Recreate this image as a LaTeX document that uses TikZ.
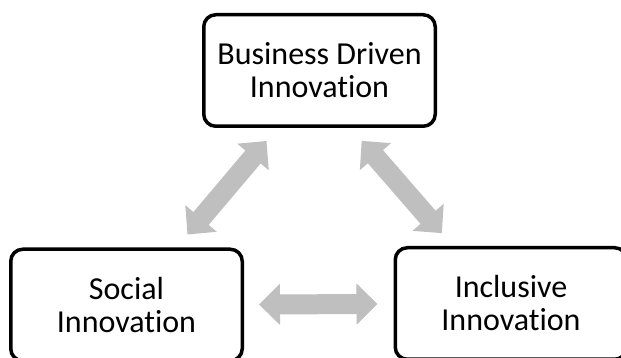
\documentclass[tikz,border=0pt]{standalone}
\usepackage{fontspec}
\setmainfont{Carlito}[Ligatures={NoCommon,NoDiscretionary,NoRare}]
\usetikzlibrary{arrows.meta, positioning}
\tikzstyle{idea} = [rectangle, rounded corners=12pt, minimum width=231.5pt, minimum height=111.5pt, text centered, align=center, draw=black, line width=3.5pt, font=\fontsize{32}{33}\selectfont]
\tikzstyle{link} = [line width=20pt, color=black!25, {Triangle[length=21pt,width=40pt]}-{Triangle[length=21pt,width=40pt]}, shorten <=17pt, shorten >=17pt]

\begin{document}
\begin{tikzpicture}[node distance=234.5pt]
	\useasboundingbox (0,0) rectangle (621pt,358pt);
	\clip (0,0) rectangle (621pt,358pt);
	\node (bdi) [idea] at (319.5pt,287.5pt) {Business Driven\\Innovation};
	\node (social) [idea, below of=bdi, xshift=-193pt] {Social\\Innovation};
	\node (inclusive) [idea, right of=social, xshift=150pt, yshift=1.5pt] {Inclusive\\Innovation};
	\draw [link] ([xshift=-42pt]bdi.south) -- ([xshift=50pt]social.north);
	\draw [link] ([xshift=31pt]bdi.south) -- ([xshift=-58pt]inclusive.north);
	\draw [link, shorten <=15pt, shorten >=16pt] (social) -- (inclusive);
\end{tikzpicture}
\end{document}
